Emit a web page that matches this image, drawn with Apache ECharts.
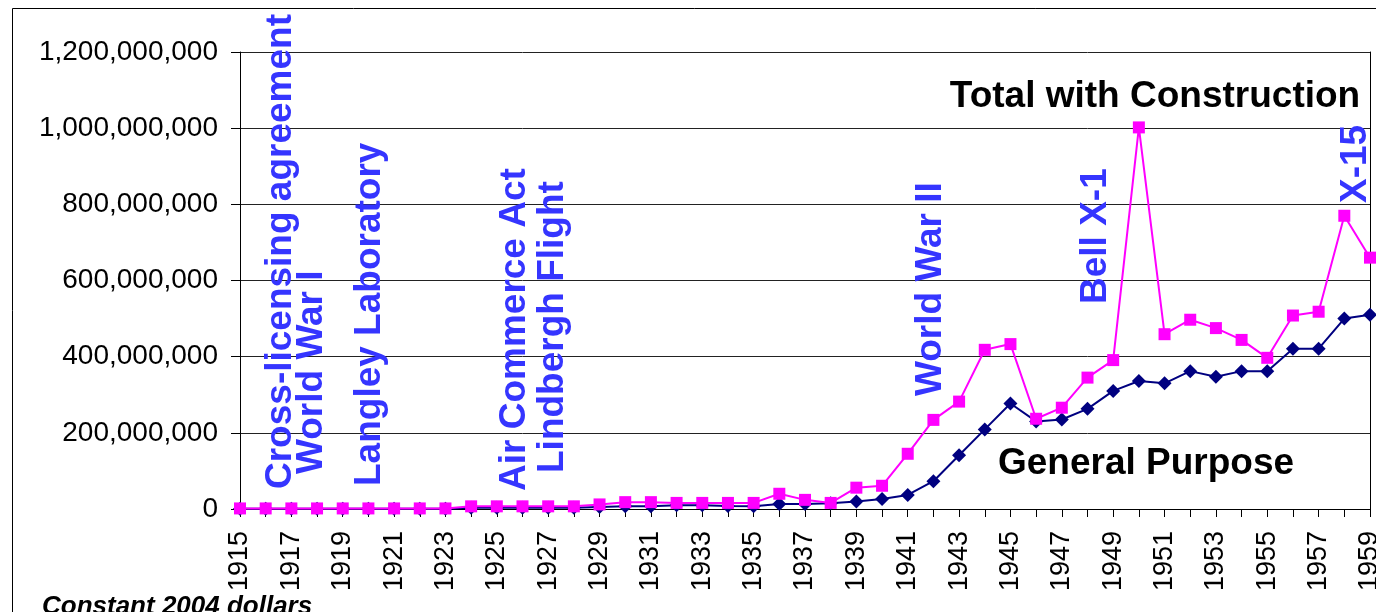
<!DOCTYPE html>
<html>
<head>
<meta charset="utf-8">
<script src="https://cdn.jsdelivr.net/npm/echarts@6/dist/echarts.min.js"></script>
<style>
  html, body { margin: 0; padding: 0; background: #fff; }
  #chart { width: 1376px; height: 612px; }
</style>
</head>
<body>
<div id="chart"></div>
<script>
// ---- Data (constant 2004 dollars) ----
var years = ['1915','1916','1917','1918','1919','1920','1921','1922','1923','1924',
             '1925','1926','1927','1928','1929','1930','1931','1932','1933','1934',
             '1935','1936','1937','1938','1939','1940','1941','1942','1943','1944',
             '1945','1946','1947','1948','1949','1950','1951','1952','1953','1954',
             '1955','1956','1957','1958','1959'];

var generalPurpose = [800000, 800000, 800000, 800000, 800000, 800000, 800000, 800000, 800000, 3000000,
                      3000000, 3000000, 3000000, 3000000, 5000000, 7000000, 7000000, 10000000, 10000000, 8000000,
                      7000000, 13000000, 13000000, 15000000, 20000000, 26000000, 37000000, 73000000, 141000000, 209000000,
                      277000000, 230000000, 235000000, 263000000, 310000000, 336000000, 330000000, 362000000, 347000000, 362000000,
                      362000000, 421000000, 421000000, 500000000, 510000000];

var totalWithConstruction = [1500000, 1500000, 1500000, 1500000, 1500000, 1500000, 1500000, 1500000, 1500000, 7000000,
                             7000000, 7000000, 7000000, 7000000, 12000000, 18000000, 18000000, 16000000, 16000000, 16000000,
                             16000000, 40000000, 24000000, 16000000, 56000000, 61000000, 145000000, 234000000, 282000000, 418000000,
                             433000000, 237000000, 266000000, 345000000, 391000000, 1002000000, 459000000, 497000000, 475000000, 444000000,
                             397000000, 508000000, 518000000, 770000000, 660000000];

var yTicks = { min: 0, max: 1200000000, interval: 200000000 };

var events = ['Cross-licensing agreement', 'World War I', 'Langley Laboratory', 'Air Commerce Act',
              'Lindbergh Flight', 'World War II', 'Bell X-1', 'X-15'];

// ---- Styles / layout ----
var FONT = '"Liberation Sans", Arial, sans-serif';
var BLUE = '#3535FF';
var eventPos = [[281, 489], [312, 474], [370, 486], [515, 491], [553, 473], [931, 396], [1096, 304], [1356, 203]];

function fmt(v) { return String(v).replace(/\B(?=(\d{3})+(?!\d))/g, ','); }

var chart = echarts.init(document.getElementById('chart'), null, { renderer: 'canvas' });

var graphics = [
  { type: 'rect', shape: { x: 12.5, y: 8.5, width: 1500, height: 800 },
    style: { fill: null, stroke: '#000', lineWidth: 1 }, silent: true, z: 0 }
];
events.forEach(function (t, i) {
  graphics.push({
    type: 'text', x: eventPos[i][0], y: eventPos[i][1], rotation: Math.PI / 2, z: 10,
    style: { text: t, fill: BLUE, font: 'bold 37px ' + FONT, align: 'left', verticalAlign: 'middle' }
  });
});
graphics.push({ type: 'text', x: 1155, y: 97, z: 10,
  style: { text: 'Total with Construction', fill: '#000', font: 'bold 37px ' + FONT, align: 'center', verticalAlign: 'middle' } });
graphics.push({ type: 'text', x: 1146, y: 464, z: 10,
  style: { text: 'General Purpose', fill: '#000', font: 'bold 37px ' + FONT, align: 'center', verticalAlign: 'middle' } });
graphics.push({ type: 'text', x: 42, y: 607, z: 10,
  style: { text: 'Constant 2004 dollars', fill: '#000', font: 'italic bold 26px ' + FONT, align: 'left', verticalAlign: 'middle' } });

chart.setOption({
  animation: false,
  backgroundColor: '#fff',
  grid: { left: 240, right: 6, top: 52, bottom: 103, containLabel: false, outerBoundsMode: 'none' },
  xAxis: {
    type: 'category',
    data: years,
    boundaryGap: false,
    axisLine: { lineStyle: { color: '#000', width: 1 } },
    axisTick: { show: true, interval: 0, length: 8, lineStyle: { color: '#000' } },
    axisLabel: { interval: 1, rotate: 90, margin: 22, color: '#000', fontSize: 27, fontFamily: FONT },
    splitLine: { show: false }
  },
  yAxis: [{
    type: 'value',
    min: yTicks.min, max: yTicks.max, interval: yTicks.interval,
    axisLine: { show: true, lineStyle: { color: '#000', width: 1 } },
    axisTick: { show: true, length: 9, lineStyle: { color: '#000' } },
    axisLabel: { margin: 22, color: '#000', fontSize: 28, fontFamily: FONT, formatter: fmt },
    splitLine: { show: true, lineStyle: { color: '#222', width: 1 } }
  }, {
    type: 'value', position: 'right',
    min: yTicks.min, max: yTicks.max, interval: yTicks.interval,
    axisLine: { show: true, lineStyle: { color: '#000', width: 1 } },
    axisTick: { show: false }, axisLabel: { show: false }, splitLine: { show: false }
  }],
  series: [{
    name: 'General Purpose',
    type: 'line',
    data: generalPurpose,
    symbol: 'diamond', symbolSize: 14,
    itemStyle: { color: '#000080' },
    lineStyle: { color: '#000080', width: 2 },
    z: 3
  }, {
    name: 'Total with Construction',
    type: 'line',
    data: totalWithConstruction,
    symbol: 'rect', symbolSize: 12,
    itemStyle: { color: '#FF00FF' },
    lineStyle: { color: '#FF00FF', width: 2 },
    z: 4
  }],
  graphic: graphics
});
</script>
</body>
</html>
